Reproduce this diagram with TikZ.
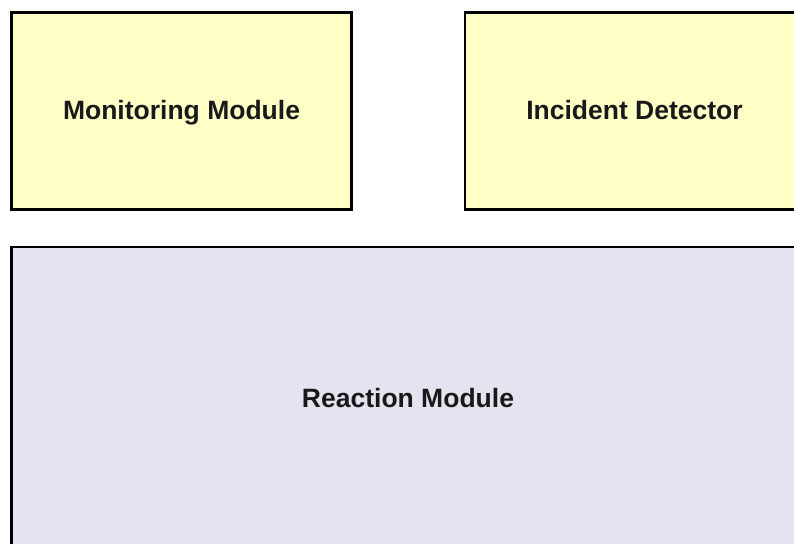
\documentclass[tikz,border=0pt]{standalone}
\usepackage{fontspec}
\setmainfont{Liberation Sans}
\definecolor{modyellow}{HTML}{FFFFC6}
\definecolor{modlavender}{HTML}{E4E4F0}
\begin{document}
\begin{tikzpicture}[x=1pt,y=1pt,
  modbox/.style={draw=black, line width=2.6pt, inner sep=0pt, outer sep=0pt},
  modlabel/.style={font=\fontsize{26.5}{30}\selectfont\bfseries, text=black!90, anchor=base, inner sep=0pt}]
  \useasboundingbox (0,0) rectangle (794,543);
  \clip (0,0) rectangle (794,543);
  % upper row
  \draw[modbox, fill=modyellow] (11.5,530.5) rectangle (351.5,333.5);
  \node[modlabel] (mon) at (181.5,423.5) {Monitoring Module};
  \draw[modbox, fill=modyellow] (465,530.5) rectangle (804,333.5);
  \node[modlabel] (inc) at (634.5,423.5) {Incident Detector};
  % lower module
  \draw[modbox, fill=modlavender] (11.5,296) rectangle (804.5,-6);
  \node[modlabel] (rea) at (408,135.5) {Reaction Module};
\end{tikzpicture}
\end{document}
